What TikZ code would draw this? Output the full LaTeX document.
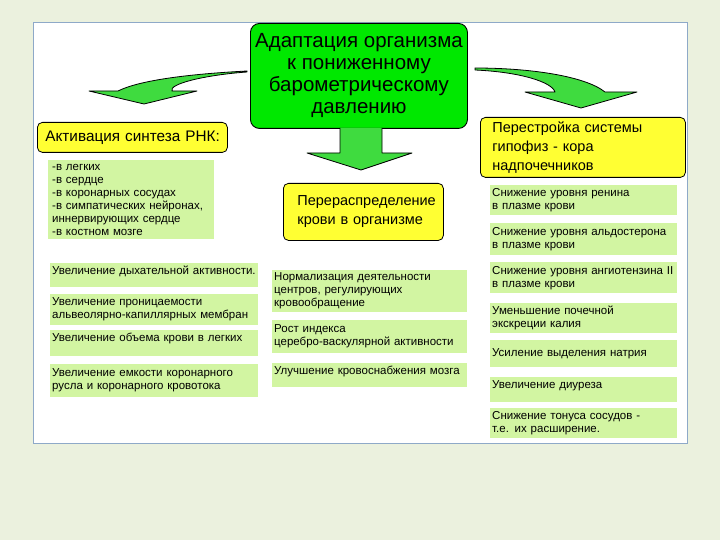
\documentclass[tikz,border=0pt]{standalone}
\usepackage{fontspec}
\setmainfont{Liberation Sans}
\usepackage{xcolor}
\usetikzlibrary{positioning}
\definecolor{pagebg}{HTML}{EBF1DE}
\definecolor{frameblue}{HTML}{8EA9C8}
\definecolor{mainlime}{HTML}{00E800}
\definecolor{arrowgreen}{HTML}{3FDB3F}
\definecolor{notegold}{HTML}{FFFF33}
\definecolor{itemgreen}{HTML}{D2F5A2}

\begin{document}
\begin{tikzpicture}[
  x=1pt, y=-1pt,
  mainbox/.style={draw=black, line width=0.9pt, fill=mainlime, rounded corners=9pt,
                  anchor=north west, align=center, inner sep=0pt,
                  minimum width=217pt, minimum height=105pt,
                  font=\fontsize{20.5}{22}\selectfont},
  headbox/.style={draw=black, line width=0.8pt, fill=notegold, rounded corners=5pt,
                  anchor=north west, align=left, inner ysep=0pt,
                  font=\fontsize{14.5}{19}\selectfont},
  itembox/.style={fill=itemgreen, anchor=north west, align=left,
                  inner xsep=2pt, inner ysep=0pt,
                  font=\fontsize{11.5}{13}\selectfont},
  leftitem/.style={itembox, text width=204pt},
  miditem/.style={itembox, text width=191pt},
  rightitem/.style={itembox, text width=183pt},
  topline/.style={inner ysep=2pt, text height=9pt, text depth=#1},
  blockarrow/.style={draw=black, line width=0.8pt, fill=arrowgreen, line join=round}
]
\useasboundingbox[fill=pagebg] (0,0) rectangle (720,540);
\draw[frameblue, fill=white, line width=0.8pt] (33,22) rectangle (687,443);

\node[mainbox] (main) at (250,23) {Адаптация организма\\к пониженному\\барометрическому\\давлению};

\draw[blockarrow] (247,71) .. controls (190,74) and (140,80) .. (118,91) -- (89,91) -- (144,104)
  -- (197,91) -- (172,91) .. controls (168,84) and (205,75) .. (247,72) -- cycle;
\draw[blockarrow] (475,68) .. controls (530,68) and (585,76) .. (605,92) -- (637,92) -- (581,108)
  -- (525,92) -- (555,92) .. controls (552,82) and (520,72) .. (475,70) -- cycle;
\draw[blockarrow] (340,128) -- (340,153) -- (307,153) -- (361,170) -- (412,153) -- (382,153) -- (382,128);

\node[headbox, inner xsep=8pt, text width=174pt, minimum height=30pt, font=\fontsize{15.3}{19}\selectfont] (rna) at (37,122) {\mbox{Активация синтеза РНК:}};
\node[headbox, inner xsep=14pt, text width=132pt, minimum height=57pt] (redist) at (283,183) {Перераспределение\\крови в организме};
\node[headbox, inner xsep=12pt, text width=181pt, minimum height=60pt] (hpa) at (480,117) {Перестройка системы\\гипофиз - кора\\надпочечников};

\node[itembox, inner xsep=4pt, text width=158pt, minimum height=79pt] (organs) at (48,160)
  {-в легких\\-в сердце\\-в коронарных сосудах\\-в симпатических нейронах,\\иннервирующих сердце\\-в костном мозге};

\node[leftitem, topline=11pt] (breath) at (50,263) {\mbox{Увеличение дыхательной активности.}};
\node[leftitem, minimum height=31pt] (perm) at (50,294) {Увеличение проницаемости\\альвеолярно-капиллярных мембран};
\node[leftitem, topline=12pt, inner ysep=2.5pt] (lungvol) at (50,330) {Увеличение объема крови в легких};
\node[leftitem, minimum height=33pt] (coronary) at (50,364) {Увеличение емкости коронарного\\русла и коронарного кровотока};

\node[miditem, minimum height=42pt] (centers) at (272,270) {Нормализация деятельности\\центров, регулирующих\\кровообращение};
\node[miditem, minimum height=33pt] (cvindex) at (272,320) {Рост индекса\\церебро-васкулярной активности};
\node[miditem, topline=11pt] (brain) at (272,363) {Улучшение кровоснабжения мозга};

\node[rightitem, minimum height=30pt] (renin) at (490,185) {Снижение уровня ренина\\в плазме крови};
\node[rightitem, minimum height=32pt] (aldo) at (490,223) {Снижение уровня альдостерона\\в плазме крови};
\node[rightitem, minimum height=31pt] (angio) at (490,262) {\mbox{Снижение уровня ангиотензина II}\\в плазме крови};
\node[rightitem, minimum height=30pt] (kalium) at (490,303) {Уменьшение почечной\\экскреции калия};
\node[rightitem, minimum height=27pt] (natrium) at (490,340) {Усиление выделения натрия};
\node[rightitem, topline=12pt] (diuresis) at (490,377) {Увеличение диуреза};
\node[rightitem, minimum height=30pt] (tonus) at (490,408) {Снижение тонуса сосудов -\\т.е. их расширение.};
\end{tikzpicture}
\end{document}
